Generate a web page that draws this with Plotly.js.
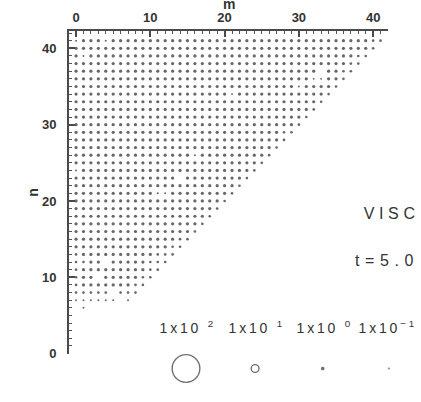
<!DOCTYPE html>
<html><head><meta charset="utf-8">
<script src="https://cdn.plot.ly/plotly-3.0.1.min.js"></script>
<style>body{margin:0;background:#fff}</style>
</head><body><div id="chart" style="width:421px;height:402px"></div>
<script>
// rows of the triangle: n value and, for m = 0..n, a magnitude class
// ('0' no dot, '1' small, '2' medium, '3' large dot)
const rowN = [41,40,39,38,37,36,35,34,33,32,31,30,29,28,27,26,25,24,23,22,21,20,19,18,17,16,15,14,13,12,11,10,9,8,7,6];
const rowDots = [
  "1333133333 3333333333 3333333333 3333333333 22",
  "3333333333 3333333333 3333333333 3333333333 2",
  "3133333333 3333333333 3333333333 3333333322",
  "3333333333 3333333333 3333333333 333333322",
  "3333333333 3333333333 3333333333 33303322",
  "3333333333 3333333333 3333333333 3311332",
  "3333333333 3333333333 3333333333 133332",
  "3333333333 3333333333 3133333333 33332",
  "3333333333 3333333333 3333333333 3332",
  "3333333333 3333333333 3333333333 332",
  "3333333333 3333333333 3333333333 32",
  "3333333333 3333333333 3333333333 2",
  "3333333333 3333333333 3333333322",
  "3333333333 3333333333 333333332",
  "3333333333 3333333333 33333332",
  "3333333333 3333331333 3333332",
  "3333333333 3333333333 333332",
  "1333333333 3333333333 33332",
  "3333333333 3333033333 3332",
  "3333333333 3333333333 332",
  "3333333333 3113333333 32",
  "3333333333 3333333333 2",
  "3333333333 3333333332",
  "3333333333 333333332",
  "3333333333 33333332",
  "3333333333 3333332",
  "3333333333 333322",
  "3333333333 33322",
  "2333333333 3222",
  "2233033333 222",
  "2333333333 22",
  "2330333332 2",
  "2333333322",
  "222220222",
  "11111101",
  "0100000"
];
const classValue = {"1": 0.8, "2": 1.4, "3": 2.0};
const legendValues = [100, 10, 1, 0.1];
const legendLabels = ["1x10 <sup>2</sup>", "1x10 <sup>1</sup>", "1x10 <sup>0</sup>", "1x10<sup>\u22121</sup>"];
const legendKeyM = [14.8, 24.1, 33.2, 42.1];
const legendKeyN = -1.9;
const legendLabelN = 3.5;
const fieldName = "VISC";
const timeLabel = "t=5.0";
const xTitle = "m";
const yTitle = "n";
const xTicks = [0, 10, 20, 30, 40];
const yTicks = [0, 10, 20, 30, 40];

const size = v => 2.2 * Math.pow(v, 0.55);

const xs = [], ys = [], vs = [];
rowN.forEach((n, i) => {
  const s = rowDots[i].replace(/ /g, "");
  for (let m = 0; m < s.length; m++) {
    if (s[m] !== "0") { xs.push(m); ys.push(n); vs.push(classValue[s[m]]); }
  }
});

const dots = {
  type: "scatter", mode: "markers", x: xs, y: ys, cliponaxis: false, hoverinfo: "skip",
  marker: {symbol: "circle", color: "#262626", size: vs.map(size), line: {width: 0}}
};
const keys = {
  type: "scatter", mode: "markers", x: legendKeyM, y: legendValues.map(() => legendKeyN),
  xaxis: "x2", yaxis: "y2", cliponaxis: false, hoverinfo: "skip",
  marker: {
    symbol: legendValues.map(v => size(v) >= 5 ? "circle-open" : "circle"),
    color: "#333", size: legendValues.map(size), line: {width: 1.4, color: "#333"}
  }
};

// plot area: 352 x 371 px starting at (69, 31)
const W = 352, H = 371;
const tickFont = {family: "Liberation Sans", size: 13, color: "#333", weight: "bold"};
const axisCommon = {
  showline: true, linecolor: "#4a4a4a", linewidth: 2, mirror: false,
  ticks: "inside", ticklen: 6, tickwidth: 2, tickcolor: "#4a4a4a",
  minor: {dtick: 1, ticks: "inside", ticklen: 3, tickwidth: 1, tickcolor: "#555"},
  showgrid: false, zeroline: false, tickfont: tickFont
};
const layout = {
  width: 421, height: 402,
  margin: {l: 69, r: 0, t: 31, b: 0},
  paper_bgcolor: "#fff", plot_bgcolor: "rgba(0,0,0,0)",
  showlegend: false,
  xaxis: Object.assign({}, axisCommon, {
    side: "top", anchor: "y", domain: [0, 319 / W], range: [-0.95, 42.0],
    tickvals: xTicks, ticktext: xTicks.map(String), ticklabelstandoff: 2
  }),
  yaxis: Object.assign({}, axisCommon, {
    anchor: "x", domain: [48 / H, 1], range: [-0.05, 42.27],
    tickvals: yTicks, ticktext: yTicks.map(String), ticklabelstandoff: 8,
    title: {text: yTitle, font: {family: "Liberation Sans", size: 14, color: "#333", weight: "bold"}, standoff: 0}
  }),
  xaxis2: {domain: [0, 1], anchor: "y2", range: [-0.95, -0.95 + W / 7.4286], visible: false, fixedrange: true},
  yaxis2: {domain: [0, 48 / H], anchor: "x2", range: [-6.29, 0], visible: false, fixedrange: true},
  annotations: [
    {xref: "paper", yref: "paper", x: (229 - 69) / W, y: (402 - 4) / H, xanchor: "center", yanchor: "middle",
     text: xTitle, showarrow: false, font: {family: "Liberation Sans", size: 14, color: "#333", weight: "bold"}},
    {xref: "paper", yref: "paper", x: (391 - 69) / W, y: (402 - 213) / H, xanchor: "center", yanchor: "middle",
     text: fieldName, showarrow: false, font: {family: "Liberation Sans", size: 16, color: "#333"}},
    {xref: "paper", yref: "paper", x: (387 - 69) / W, y: (402 - 260) / H, xanchor: "center", yanchor: "middle",
     text: timeLabel, showarrow: false, font: {family: "Liberation Sans", size: 16, color: "#333"}}
  ].concat(legendLabels.map((t, i) => ({
     xref: "x2", yref: "y", x: legendKeyM[i] + (i === 3 ? -0.1 : 0.25), y: legendLabelN, xanchor: "center", yanchor: "middle",
     text: t, showarrow: false, font: {family: "Liberation Sans", size: 14, color: "#333"}
  })))
};

Plotly.newPlot("chart", [dots, keys], layout, {staticPlot: true}).then(() => {
  document.querySelectorAll(".annotation-text").forEach(el => {
    const t = el.textContent;
    if (t === fieldName) el.style.letterSpacing = "4.6px";
    else if (t === timeLabel) el.style.letterSpacing = "5.6px";
    else if (t === xTitle) el.style.letterSpacing = "0px";
    else el.style.letterSpacing = "2.8px";
  });
});
</script></body></html>
